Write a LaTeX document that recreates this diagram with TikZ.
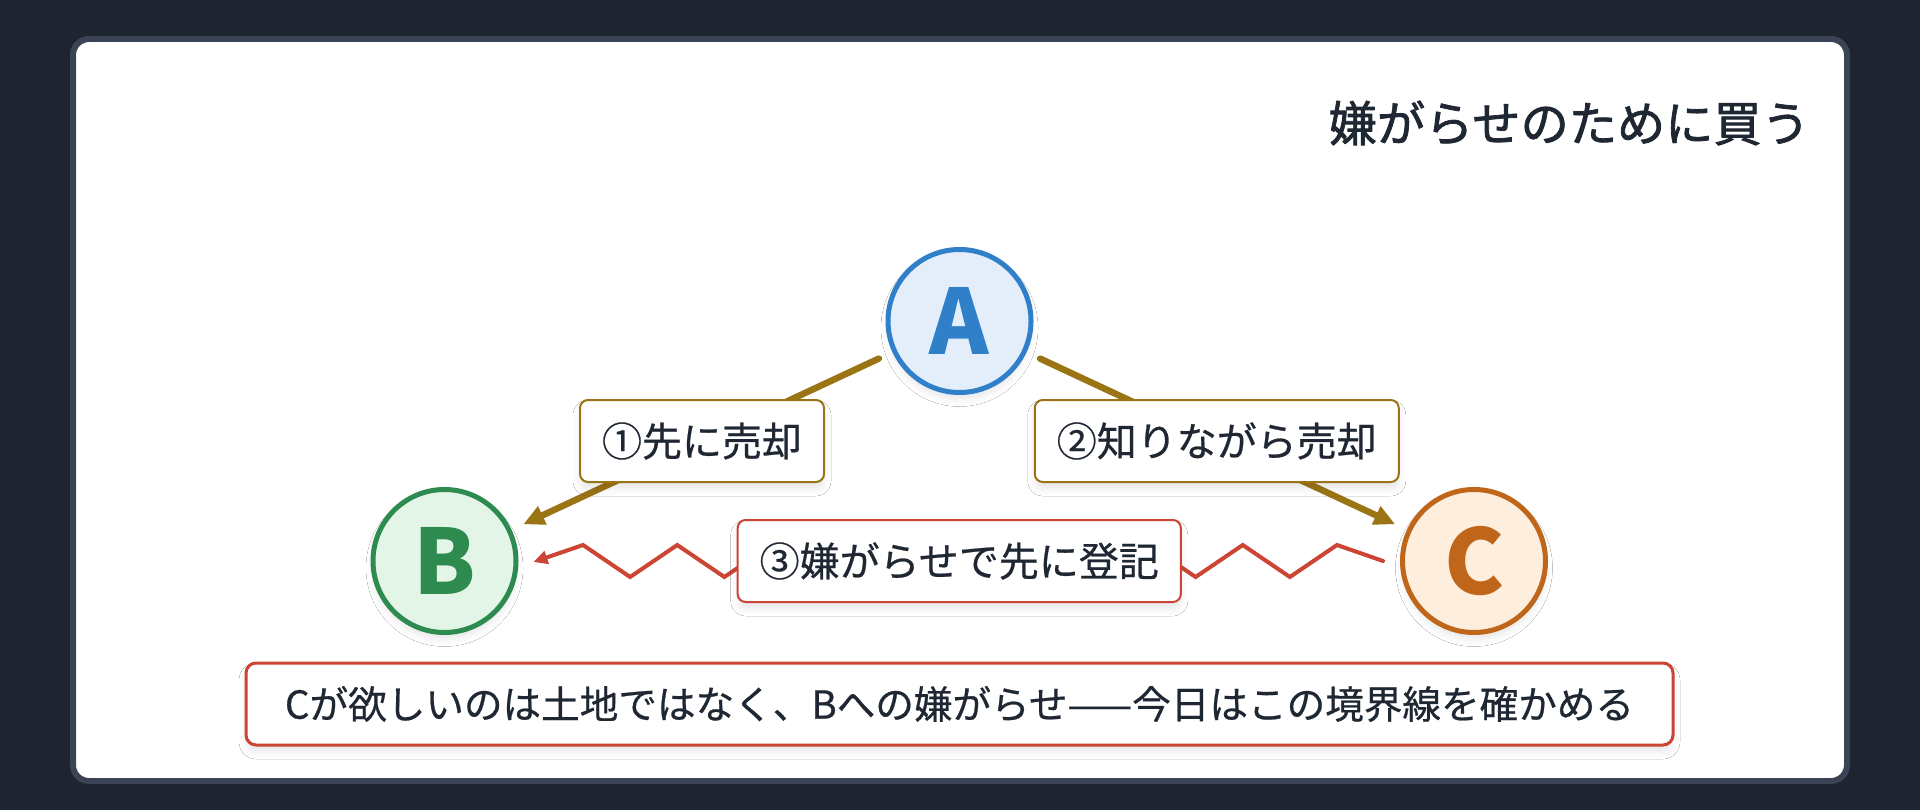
\documentclass[tikz,border=0pt]{standalone}
\usepackage{fontspec}
\setmainfont{Noto Sans CJK JP}
\newfontfamily\midfont[FakeBold=0.6]{Noto Sans CJK JP}
\newfontfamily\headfont[FakeBold=1.6]{Noto Sans CJK JP}
\usetikzlibrary{arrows.meta,calc,shadows.blur}

\definecolor{bgdark}{HTML}{1E2530}
\definecolor{cardline}{HTML}{3B4454}
\definecolor{ink}{HTML}{1F2733}
\definecolor{blueA}{HTML}{2F7FC9}
\definecolor{blueAfill}{HTML}{E4EEFA}
\definecolor{greenB}{HTML}{2E8B50}
\definecolor{greenBfill}{HTML}{E3F5E7}
\definecolor{orangeC}{HTML}{C0661A}
\definecolor{orangeCfill}{HTML}{FDEEDD}
\definecolor{gold}{HTML}{9B7416}
\definecolor{redline}{HTML}{CC4433}

\tikzset{
  softshadow/.style={blur shadow={shadow xshift=0pt,shadow yshift=-7pt,shadow blur radius=7pt,shadow opacity=9}},
  party/.style={circle,line width=5pt,minimum size=143pt,inner sep=0pt,softshadow,
    font=\fontsize{90}{90}\selectfont\bfseries},
  tag/.style={draw,fill=white,rounded corners=8pt,line width=2pt,inner xsep=22pt,inner ysep=0pt,
    minimum height=82pt,text=ink,softshadow,font=\fontsize{40}{48}\midfont},
  sale/.style={-{Triangle[length=21pt,width=19pt]},draw=gold,line width=6.5pt,shorten <=15pt,shorten >=13pt},
  zig/.style={-{Triangle[length=14pt,width=13pt]},draw=redline,line width=4pt,line join=miter}
}

\begin{document}
\begin{tikzpicture}[line cap=round,line join=round,x=1pt,y=-1pt]
  \fill[bgdark] (0,0) rectangle (1920,810);
  \useasboundingbox (0,0) rectangle (1920,810);
  \draw[cardline,line width=6pt,fill=white,rounded corners=16pt] (73,39) rectangle (1847,781);

  \node[anchor=east,inner sep=0pt,text=ink,font=\fontsize{48.2}{56}\headfont] (title) at (1810,123) {嫌がらせのために買う};

  \node[party,draw=blueA,fill=blueAfill,text=blueA] (A) at (959.5,321) {A};
  \node[party,draw=greenB,fill=greenBfill,text=greenB] (B) at (444.5,561) {B};
  \node[party,draw=orangeC,fill=orangeCfill,text=orangeC] (C) at (1474,561) {C};

  \draw[sale] (A) -- (B) node[midway,tag,draw=gold] (sell1) {①先に売却};
  \draw[sale] (A) -- (C) node[midway,tag,draw=gold] (sell2) {②知りながら売却};

  \draw[zig] ($(C.west)+(-17,0)$) -- ++(-46,-16)
    \foreach \i in {1,...,16}{ -- ++(-47.125,{ifthenelse(isodd(\i),32,-32)}) }
    -- ($(B.east)+(15,1)$);
  \node[tag,draw=redline] (reg) at ($(B)!0.5!(C)$) {③嫌がらせで先に登記};

  \node[draw=redline,fill=white,rounded corners=10pt,line width=3pt,minimum width=1427pt,minimum height=82pt,
    inner sep=0pt,text=ink,softshadow,font=\fontsize{38.6}{46}\midfont] (moral) at (959.5,704)
    {Cが欲しいのは土地ではなく、Bへの嫌がらせ——今日はこの境界線を確かめる};
\end{tikzpicture}
\end{document}
